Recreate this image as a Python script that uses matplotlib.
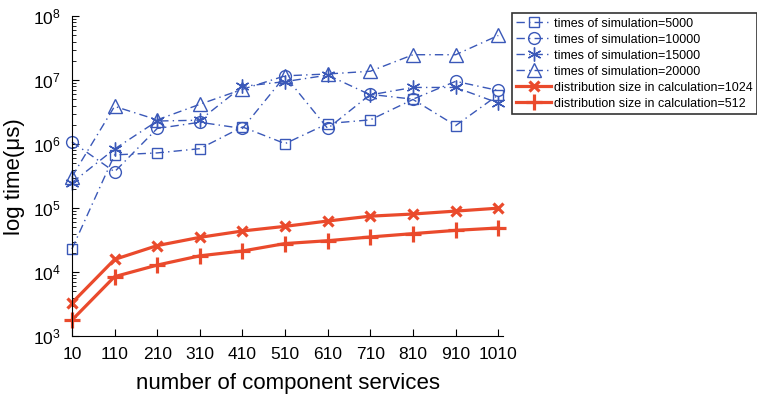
import matplotlib
matplotlib.use("Agg")
import matplotlib.pyplot as plt
from matplotlib.ticker import LogLocator, NullFormatter

plt.rcParams['font.family'] = ['Liberation Sans', 'DejaVu Sans']
plt.rcParams['mathtext.fontset'] = 'custom'
plt.rcParams['mathtext.rm'] = 'Liberation Sans'

services = [10, 110, 210, 310, 410, 510, 610, 710, 810, 910, 1010]

sim_5000 = [2.3e4, 6.8e5, 7.3e5, 8.5e5, 1.86e6, 1.02e6, 2.1e6, 2.4e6, 5.0e6, 1.95e6, 5.9e6]
sim_10000 = [1.09e6, 3.7e5, 1.76e6, 2.2e6, 1.76e6, 1.16e7, 1.76e6, 6.0e6, 5.05e6, 9.6e6, 6.9e6]
sim_15000 = [2.5e5, 8.4e5, 2.3e6, 2.37e6, 8.0e6, 9.5e6, 1.2e7, 5.9e6, 7.7e6, 7.7e6, 4.4e6]
sim_20000 = [3.1e5, 3.9e6, 2.4e6, 4.2e6, 7.2e6, 1.17e7, 1.25e7, 1.38e7, 2.5e7, 2.5e7, 5.0e7]
calc_1024 = [3300, 15800, 26000, 35000, 44000, 52000, 63000, 75000, 81000, 90000, 100000]
calc_512 = [1780, 8500, 12900, 18000, 21400, 28000, 31000, 35500, 40000, 45000, 49000]

blue = '#3a58b8'
red = '#ea4a2c'

fig = plt.figure(figsize=(7.57, 3.95), dpi=100)
ax = fig.add_axes([0.095, 0.149, 0.57, 0.81])

dashdot = (0, (6, 3, 1, 3))
asterisk = (6, 2, 0)
common = dict(color=blue, lw=1.0, ls=dashdot, mfc='none', mec=blue, mew=1.0, clip_on=False)
ax.plot(services, sim_5000, marker='s', ms=7.5, label='times of simulation=5000', **common)
ax.plot(services, sim_10000, marker='o', ms=8.5, label='times of simulation=10000', **common)
ax.plot(services, sim_15000, marker=asterisk, ms=10, label='times of simulation=15000', **common)
ax.plot(services, sim_20000, marker='^', ms=10, label='times of simulation=20000', **common)
ax.plot(services, calc_1024, color=red, lw=2.3, marker='x', ms=7.5, mew=2.3, clip_on=False,
        label='distribution size in calculation=1024')
ax.plot(services, calc_512, color=red, lw=2.3, marker='+', ms=11, mew=2.3, clip_on=False,
        label='distribution size in calculation=512')

ax.set_yscale('log')
ax.set_ylim(1e3, 1e8)
ax.set_xlim(10, 1022)
ax.set_xticks(services)
ax.set_xticklabels([str(s) for s in services])
ax.yaxis.set_major_locator(LogLocator(base=10, numticks=10))
ax.yaxis.set_minor_locator(LogLocator(base=10, subs=range(2, 10), numticks=20))
ax.yaxis.set_minor_formatter(NullFormatter())

for side in ('top', 'right'):
    ax.spines[side].set_visible(False)
ax.tick_params(axis='both', which='major', direction='in', length=5, labelsize=12.5, pad=8)
ax.tick_params(axis='y', which='minor', direction='in', length=3)
ax.tick_params(axis='x', which='minor', length=0)

ax.set_xlabel('number of component services', fontsize=16, labelpad=8)
ax.set_ylabel('log time(μs)', fontsize=16, labelpad=6)

leg = ax.legend(loc='upper left', bbox_to_anchor=(0.676, 0.966),
                bbox_transform=fig.transFigure, fontsize=9.0, frameon=True,
                fancybox=False, edgecolor='black', borderpad=0.35,
                labelspacing=0.32, handlelength=2.8, handletextpad=0.25,
                borderaxespad=0)
leg.get_frame().set_linewidth(1.2)

fig.savefig('out.png', dpi=100)
